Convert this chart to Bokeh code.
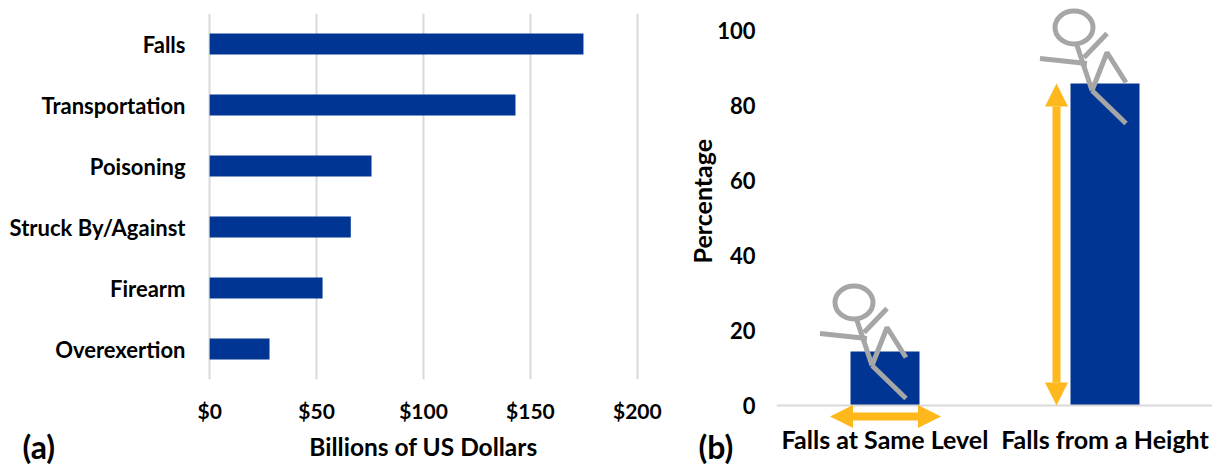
from bokeh.plotting import figure
from bokeh.layouts import row, column
from bokeh.models import Range1d, FactorRange, Label, Arrow, NormalHead, FixedTicker, Span, Title
from bokeh.embed import file_html
from bokeh.resources import INLINE

FONT = "Lato"
NAVY = "#003594"
GREY = "#A6A6A6"
GOLD = "#FFB81C"

causes = ["Falls", "Transportation", "Poisoning", "Struck By/Against", "Firearm", "Overexertion"]
costs = [174.8, 143, 75.7, 66, 52.8, 28]
cost_ticks = [0, 50, 100, 150, 200]
fall_types = ["Falls at Same Level", "Falls from a Height"]
fall_pct = [14.4, 85.9]
pct_ticks = [0, 20, 40, 60, 80, 100]
fall_x = [0.5, 1.5]

def style(ax, size, title_size="25px"):
    ax.axis_line_color = None
    ax.major_tick_line_color = None
    ax.minor_tick_line_color = None
    ax.major_tick_out = 0
    ax.major_tick_in = 0
    ax.minor_tick_out = 0
    ax.minor_tick_in = 0
    ax.major_label_text_font = FONT
    ax.major_label_text_font_style = "bold"
    ax.major_label_text_font_size = size
    ax.major_label_text_color = "#000000"
    ax.axis_label_text_font = FONT
    ax.axis_label_text_font_style = "bold"
    ax.axis_label_text_font_size = title_size
    ax.axis_label_text_color = "#000000"

# Panel (a)
a = figure(width=682, height=502, output_backend="svg", toolbar_location=None,
           x_range=Range1d(-1, 201), y_range=FactorRange(factors=causes[::-1], range_padding=0),
           min_border_left=207, min_border_right=43, min_border_top=13, min_border_bottom=86,
           margin=(0, 0, -37, 0))
a.outline_line_color = None
a.background_fill_color = None
a.border_fill_color = None
a.hbar(y=causes, right=costs, left=0, height=0.345, fill_color=NAVY, line_color=None)
a.xaxis.ticker = FixedTicker(ticks=cost_ticks)
a.xaxis.major_label_overrides = {t: f"${t}" for t in cost_ticks}
a.xaxis.axis_label = "Billions of US Dollars"
style(a.xaxis[0], "21px", "24.5px"); style(a.yaxis[0], "22px")
a.xaxis.major_label_standoff = 18
a.xaxis.axis_label_standoff = 6
a.yaxis.major_label_standoff = 22
a.ygrid.grid_line_color = None
a.xgrid.grid_line_color = "#D9D9D9"
a.xgrid.grid_line_width = 2
a.add_layout(Label(x=22, y=446, x_units="canvas", y_units="canvas", text="(a)", text_font=FONT,
                   text_baseline="middle", text_font_style="bold", text_font_size="32px",
                   text_color="#000000"), "below")

# Panel (b)
PX_X = 220.0   # pixels per category
PX_Y = 3.75    # pixels per percentage point
b = figure(width=530, height=495, output_backend="svg", toolbar_location=None,
           x_range=Range1d(1.5 / PX_X, 437.5 / PX_X), y_range=Range1d(-23 / PX_Y, 405 / PX_Y),
           min_border_left=94, min_border_right=0, min_border_top=0, min_border_bottom=37,
           margin=(0, 0, -30, 0))
b.outline_line_color = None
b.background_fill_color = None
b.border_fill_color = None
b.grid.grid_line_color = None
b.add_layout(Span(location=0, dimension="width", line_color="#D9D9D9", line_width=2))
b.vbar(x=fall_x, top=fall_pct, bottom=0, width=69 / PX_X, fill_color=NAVY, line_color=None)
b.xaxis.ticker = FixedTicker(ticks=fall_x)
b.xaxis.major_label_overrides = dict(zip(fall_x, fall_types))
b.yaxis.ticker = FixedTicker(ticks=pct_ticks)
style(b.xaxis[0], "25px"); style(b.yaxis[0], "22px")
b.xaxis.major_label_standoff = -5
b.yaxis.major_label_standoff = 21
b.add_layout(Title(text="Percentage", align="left", offset=165, standoff=-4, text_font=FONT,
                   text_font_style="bold", text_font_size="25px", text_color="#000000"), "left")

# Stick figures: offsets from the hip, in pixels
figure_hips = [(-13, 10.67), (-13, 84.0)]
head = (-18, 63, 38, 33)
limbs = [
    ([-15, 0], [45, 0]),
    ([-5, -52], [27, 32]),
    ([-8, 15], [33, 57]),
    ([0, 15, 34], [0, 38, 8]),
    ([0, 34], [0, -33]),
]
for i, (dx, hy) in enumerate(figure_hips):
    cx = fall_x[i] + dx / PX_X
    b.ellipse(x=cx + head[0] / PX_X, y=hy + head[1] / PX_Y, width=head[2] / PX_X, height=head[3] / PX_Y,
              fill_color=None, line_color=GREY, line_width=5)
    for xs, ys in limbs:
        b.line([cx + v / PX_X for v in xs], [hy + v / PX_Y for v in ys], line_color=GREY, line_width=5)

# Arrows
def arrow_head():
    return NormalHead(size=23, fill_color=GOLD, line_color=GOLD, line_width=0)
b.add_layout(Arrow(start=arrow_head(), end=arrow_head(), x_start=fall_x[0] - 55 / PX_X, x_end=fall_x[0] + 56 / PX_X,
                   y_start=-11 / PX_Y, y_end=-11 / PX_Y, line_color=GOLD, line_width=8))
b.add_layout(Arrow(start=arrow_head(), end=arrow_head(), x_start=fall_x[1] - 48.5 / PX_X, x_end=fall_x[1] - 48.5 / PX_X,
                   y_start=0, y_end=fall_pct[1], line_color=GOLD, line_width=8))
b.add_layout(Label(x=16, y=446, x_units="canvas", y_units="canvas", text="(b)", text_font=FONT,
                   text_baseline="middle", text_font_style="bold", text_font_size="32px",
                   text_color="#000000"), "below")

open("out.html", "w").write(file_html(row(column(a), column(b)), INLINE))
